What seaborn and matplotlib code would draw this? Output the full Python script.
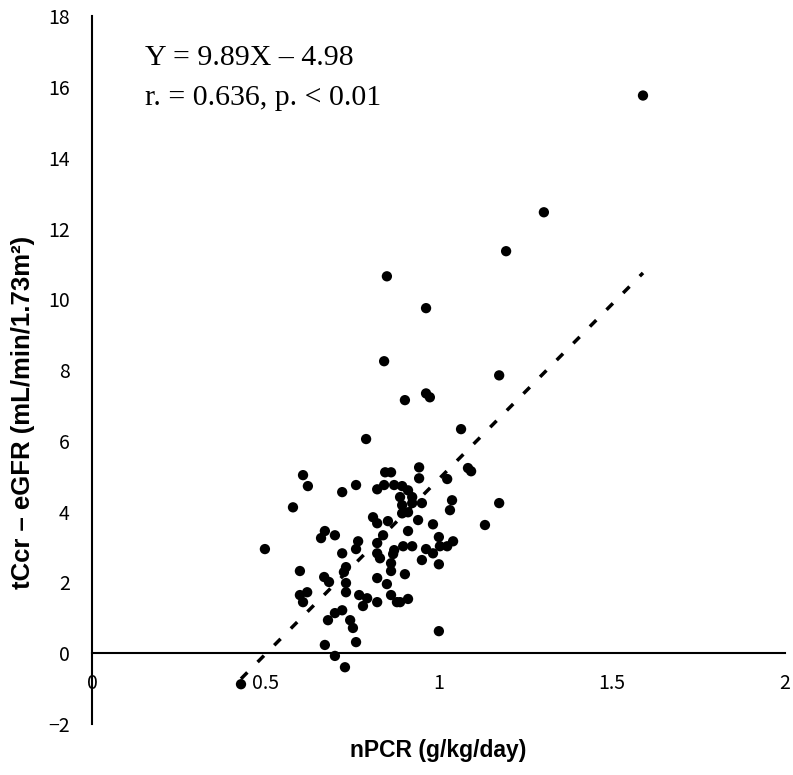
import numpy as np
import pandas as pd
import matplotlib
matplotlib.use("Agg")
import matplotlib.pyplot as plt
import seaborn as sns

# values
npcr = [1.590, 1.304, 1.195, 0.851, 0.964, 0.843, 1.175, 0.964, 0.975, 0.903,
        0.791, 1.065, 0.609, 0.623, 0.580, 0.722, 0.762, 0.846, 0.863, 0.944,
        0.944, 1.085, 1.094, 1.025, 0.823, 0.843, 0.872, 0.895, 0.912, 0.889,
        0.924, 0.895, 0.924, 0.952, 0.895, 0.912, 0.811, 0.823, 0.854, 0.941,
        0.984, 0.912, 1.039, 1.033, 1.175, 1.134, 0.840, 1.001, 1.042, 0.898,
        0.924, 0.964, 0.984, 1.004, 1.025, 0.952, 1.001, 0.903, 0.912, 0.889,
        1.001, 0.672, 0.661, 0.701, 0.768, 0.762, 0.722, 0.823, 0.823, 0.831,
        0.872, 0.869, 0.863, 0.863, 0.823, 0.851, 0.863, 0.880, 0.823, 0.733,
        0.727, 0.733, 0.733, 0.771, 0.794, 0.782, 0.670, 0.684, 0.600, 0.621,
        0.600, 0.609, 0.722, 0.701, 0.681, 0.745, 0.753, 0.762, 0.672, 0.701,
        0.730, 0.430, 0.499]
tccr_egfr = [15.76, 12.46, 11.36, 10.65, 9.75, 8.25, 7.85, 7.34, 7.23, 7.15,
             6.05, 6.33, 5.03, 4.72, 4.12, 4.55, 4.75, 5.11, 5.11, 5.25,
             4.94, 5.23, 5.14, 4.92, 4.63, 4.75, 4.75, 4.72, 4.60, 4.41,
             4.41, 4.18, 4.24, 4.24, 3.95, 3.98, 3.84, 3.67, 3.73, 3.76,
             3.64, 3.45, 4.32, 4.04, 4.24, 3.62, 3.33, 3.28, 3.16, 3.02,
             3.02, 2.94, 2.82, 3.02, 3.02, 2.63, 2.51, 2.23, 1.53, 1.44,
             0.62, 3.45, 3.25, 3.33, 3.16, 2.94, 2.82, 3.11, 2.82, 2.68,
             2.91, 2.80, 2.54, 2.32, 2.12, 1.95, 1.64, 1.44, 1.44, 2.43,
             2.29, 1.98, 1.72, 1.64, 1.55, 1.33, 2.15, 2.01, 2.32, 1.72,
             1.64, 1.44, 1.21, 1.13, 0.93, 0.93, 0.71, 0.31, 0.23, -0.08,
             -0.40, -0.88, 2.94]

SLOPE = 9.89
INTERCEPT = -4.98

X_TICKS = [0, 0.5, 1, 1.5, 2]
X_TICK_LABELS = ["0", "0.5", "1", "1.5", "2"]
Y_TICKS = list(range(-2, 19, 2))

df = pd.DataFrame({"nPCR": npcr, "diff": tccr_egfr})

sns.set_style("white")
plt.rcParams["font.family"] = ["Noto Sans CJK JP", "DejaVu Sans"]
plt.rcParams["text.color"] = "black"
plt.rcParams["axes.labelcolor"] = "black"

fig = plt.figure(figsize=(7.93, 7.75), dpi=100)
ax = fig.add_axes([0.116, 0.066, 0.874, 0.913])

sns.scatterplot(data=df, x="nPCR", y="diff", color="black", s=55,
                edgecolor="none", ax=ax, zorder=3)

# regression line across the observed nPCR range
line_x = np.array([df["nPCR"].min(), df["nPCR"].max()])
fit = pd.DataFrame({"x": line_x, "y": SLOPE * line_x + INTERCEPT})
sns.lineplot(data=fit, x="x", y="y", color="black", lw=2.5,
             linestyle=(0, (2.6, 4.2)), ax=ax, zorder=2)

ax.set_xlim(0, 2)
ax.set_ylim(-2, 18)
ax.set_xticks(X_TICKS)
ax.set_xticklabels(X_TICK_LABELS)
ax.set_yticks(Y_TICKS)

for side in ["top", "right"]:
    ax.spines[side].set_visible(False)
ax.spines["bottom"].set_position(("data", 0))
for side in ["bottom", "left"]:
    ax.spines[side].set_linewidth(1.5)
    ax.spines[side].set_color("black")

ax.tick_params(direction="in", length=5, width=1.3, labelsize=14, colors="black")
ax.tick_params(axis="x", pad=14)
ax.tick_params(axis="y", pad=16)

ax.set_xlabel("nPCR (g/kg/day)", fontsize=16.5, fontweight="bold",
              family=["Liberation Sans", "DejaVu Sans"])
ax.xaxis.set_label_coords(0.5, -0.022)
ax.set_ylabel("tCcr – eGFR (mL/min/1.73m²)", fontsize=18.5, fontweight="bold",
              family=["Liberation Sans", "DejaVu Sans"])
ax.yaxis.set_label_coords(-0.082, 0.44)

ax.text(0.153, 16.61, "Y = 9.89X – 4.98", fontsize=21.5, va="baseline",
        family=["Liberation Serif", "DejaVu Serif"])
ax.text(0.153, 15.48, "r. = 0.636, p. < 0.01", fontsize=21.5, va="baseline",
        family=["Liberation Serif", "DejaVu Serif"])

fig.savefig("out.png", dpi=100)
